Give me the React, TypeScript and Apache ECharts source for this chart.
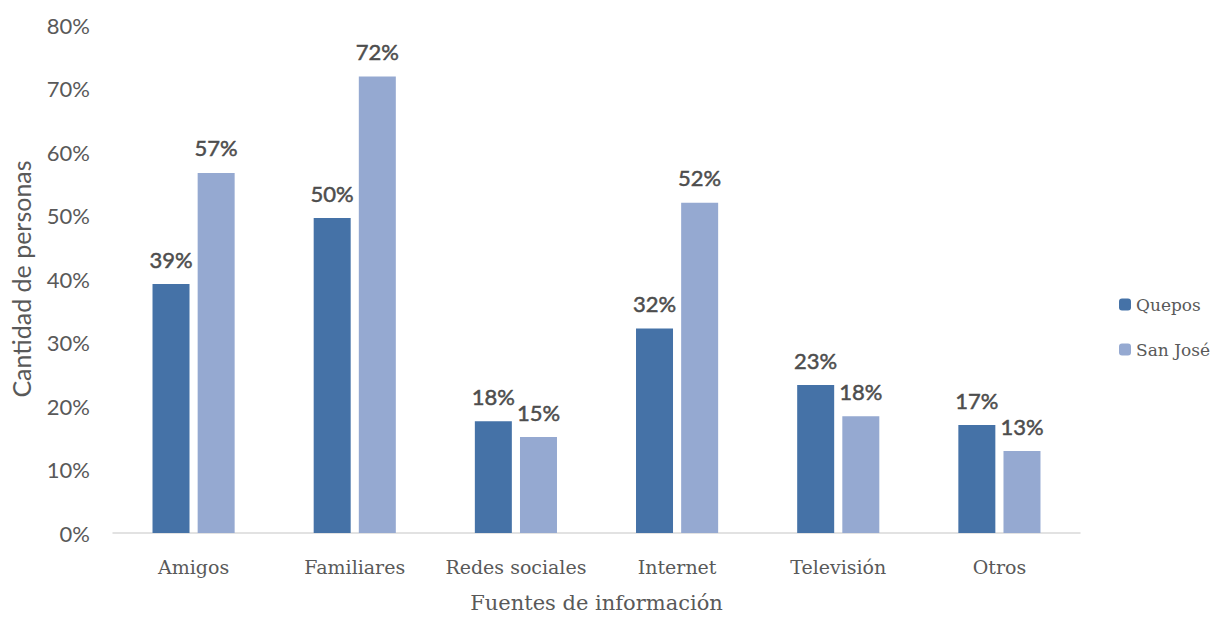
import React, { useEffect, useRef } from "react";
import * as echarts from "echarts";

const categories = ["Amigos", "Familiares", "Redes sociales", "Internet", "Televisión", "Otros"];
const quepos = [39.2, 49.6, 17.6, 32.2, 23.3, 17.0];
const sanJose = [56.7, 71.9, 15.1, 52.0, 18.4, 12.9];
const seriesNames = ["Quepos", "San José"];

export default function App() {
  const ref = useRef<HTMLDivElement>(null);
  useEffect(() => {
    const chart = echarts.init(ref.current!, undefined, { renderer: "svg" });
    const labelStyle = {
      show: true,
      position: "top",
      distance: 14,
      color: "#4d4d4d",
      fontFamily: "Lato",
      fontSize: 22,
      fontWeight: "normal",
      textBorderColor: "#4d4d4d",
      textBorderWidth: 0.5,
      formatter: (p: any) => Math.round(p.value) + "%",
    };
    chart.setOption({
      animation: false,
      backgroundColor: "#ffffff",
      grid: { left: 113, right: 140, top: 25, bottom: 79 },
      legend: {
        orient: "vertical",
        left: 1114,
        top: 291,
        itemWidth: 12,
        itemHeight: 12,
        itemGap: 28,
        data: seriesNames,
        textStyle: { fontFamily: "DejaVu Serif", fontSize: 17, color: "#595959" },
      },
      xAxis: {
        type: "category",
        data: categories,
        name: "Fuentes de información",
        nameLocation: "middle",
        nameGap: 59,
        nameTextStyle: { fontFamily: "DejaVu Serif", fontSize: 21, color: "#595959" },
        axisLine: { lineStyle: { color: "#d9d9d9", width: 1.5 } },
        axisTick: { show: false },
        axisLabel: { interval: 0, fontFamily: "DejaVu Serif", fontSize: 19, color: "#595959", margin: 24 },
      },
      yAxis: {
        type: "value",
        min: 0,
        max: 80,
        interval: 10,
        name: "Cantidad de personas",
        nameLocation: "middle",
        nameGap: 80,
        nameTextStyle: { fontFamily: "Lato", fontSize: 25, color: "#595959" },
        axisLine: { show: false },
        axisTick: { show: false },
        splitLine: { show: false },
        axisLabel: {
          fontFamily: "Lato",
          fontSize: 22,
          color: "#595959",
          margin: 23,
          formatter: (v: number) => v + "%",
        },
      },
      series: [
        {
          name: seriesNames[0],
          type: "bar",
          data: quepos,
          barWidth: 37,
          barGap: "22%",
          itemStyle: { color: "#4572A7" },
          label: labelStyle,
        },
        {
          name: seriesNames[1],
          type: "bar",
          data: sanJose,
          barWidth: 37,
          itemStyle: { color: "#95A9D1" },
          label: labelStyle,
        },
      ],
    });
    return () => chart.dispose();
  }, []);
  return (
    <div
      ref={ref}
      style={{ position: "fixed", left: 0, top: 0, width: 1220, height: 618 }}
    />
  );
}
